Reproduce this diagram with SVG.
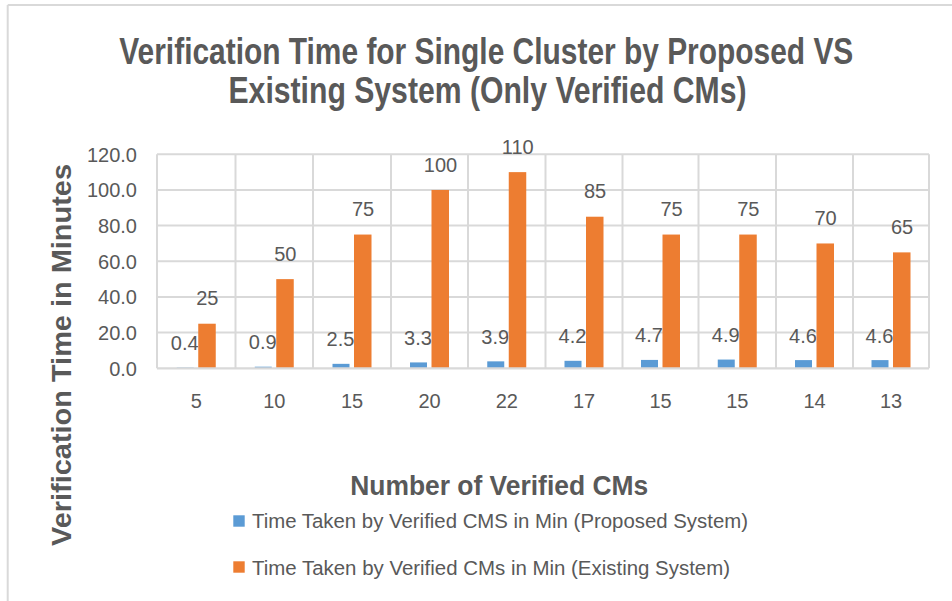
<svg xmlns="http://www.w3.org/2000/svg" width="952" height="601" viewBox="0 0 952 601">
  <style>
    .frame { stroke: #D9D9D9; stroke-width: 2; fill: none; }
    .grid { stroke: #D9D9D9; stroke-width: 2; fill: none; }
    .axis { stroke: #D9D9D9; stroke-width: 2.2; fill: none; }
    .proposed { fill: #5B9BD5; }
    .existing { fill: #ED7D31; }
    .title { font-family: "Liberation Sans Narrow", "Liberation Sans", Arial, sans-serif; font-weight: bold; fill: #595959; }
    .num { font-family: "Liberation Sans", Arial, sans-serif; font-size: 20px; fill: #595959; }
    .tick-y { text-anchor: end; }
    .mid { text-anchor: middle; }
    .legend { font-family: "Liberation Sans", Arial, sans-serif; font-size: 20px; fill: #595959; }
  </style>

  <rect x="0" y="0" width="952" height="601" fill="#FFFFFF"/>

  <!-- chart frame (top and left edges) -->
  <g id="frame">
    <line class="frame" x1="7.7" y1="5" x2="952" y2="5"/>
    <line class="frame" x1="7.7" y1="5" x2="7.7" y2="601"/>
  </g>

  <!-- chart title -->
  <g id="chart-title" class="title">
    <text x="486.3" y="64.3" font-size="36" text-anchor="middle" textLength="734" lengthAdjust="spacingAndGlyphs">Verification Time for Single Cluster by Proposed VS</text>
    <text x="487.5" y="103.3" font-size="36" text-anchor="middle" textLength="518" lengthAdjust="spacingAndGlyphs">Existing System (Only Verified CMs)</text>
  </g>

  <!-- plot gridlines: value 0..120 step 20, category boundaries -->
  <g id="gridlines">
    <line class="grid" x1="157" y1="332.6" x2="929" y2="332.6"/>
    <line class="grid" x1="157" y1="297.0" x2="929" y2="297.0"/>
    <line class="grid" x1="157" y1="261.3" x2="929" y2="261.3"/>
    <line class="grid" x1="157" y1="225.6" x2="929" y2="225.6"/>
    <line class="grid" x1="157" y1="190.0" x2="929" y2="190.0"/>
    <line class="grid" x1="157" y1="154.3" x2="929" y2="154.3"/>
    <line class="grid" x1="157" y1="154.3" x2="157" y2="368.3"/>
    <line class="grid" x1="235.5" y1="154.3" x2="235.5" y2="368.3"/>
    <line class="grid" x1="313" y1="154.3" x2="313" y2="368.3"/>
    <line class="grid" x1="391" y1="154.3" x2="391" y2="368.3"/>
    <line class="grid" x1="468" y1="154.3" x2="468" y2="368.3"/>
    <line class="grid" x1="545.5" y1="154.3" x2="545.5" y2="368.3"/>
    <line class="grid" x1="622.5" y1="154.3" x2="622.5" y2="368.3"/>
    <line class="grid" x1="698.5" y1="154.3" x2="698.5" y2="368.3"/>
    <line class="grid" x1="776" y1="154.3" x2="776" y2="368.3"/>
    <line class="grid" x1="853" y1="154.3" x2="853" y2="368.3"/>
    <line class="grid" x1="929" y1="154.3" x2="929" y2="368.3"/>
  </g>

  <!-- value axis tick labels -->
  <g id="value-axis" class="num tick-y">
    <text x="137" y="375.6">0.0</text>
    <text x="137" y="339.9">20.0</text>
    <text x="137" y="304.3">40.0</text>
    <text x="137" y="268.6">60.0</text>
    <text x="137" y="232.9">80.0</text>
    <text x="137" y="197.3">100.0</text>
    <text x="137" y="161.6">120.0</text>
  </g>

  <!-- proposed system series -->
  <g id="series-proposed" class="proposed">
    <rect x="176.75" y="367.59" width="17" height="0.71"/>
    <rect x="254.75" y="366.70" width="17" height="1.60"/>
    <rect x="332.5" y="363.84" width="17" height="4.46"/>
    <rect x="410" y="362.42" width="17" height="5.88"/>
    <rect x="487.25" y="361.35" width="17" height="6.95"/>
    <rect x="564.5" y="360.81" width="17" height="7.49"/>
    <rect x="641" y="359.92" width="17" height="8.38"/>
    <rect x="717.75" y="359.56" width="17" height="8.74"/>
    <rect x="795" y="360.10" width="17" height="8.20"/>
    <rect x="871.5" y="360.10" width="17" height="8.20"/>
  </g>

  <!-- proposed system data labels -->
  <g id="labels-proposed" class="num mid">
    <text x="184.75" y="350.1">0.4</text>
    <text x="262.75" y="349.2">0.9</text>
    <text x="340.5" y="346.3">2.5</text>
    <text x="418" y="344.9">3.3</text>
    <text x="495.25" y="343.9">3.9</text>
    <text x="572.5" y="343.3">4.2</text>
    <text x="649" y="342.4">4.7</text>
    <text x="725.75" y="342.1">4.9</text>
    <text x="803" y="342.6">4.6</text>
    <text x="879.5" y="342.6">4.6</text>
  </g>

  <!-- existing system series -->
  <g id="series-existing" class="existing">
    <rect x="198.25" y="323.72" width="17.5" height="44.58"/>
    <rect x="276.25" y="279.13" width="17.5" height="89.17"/>
    <rect x="354" y="234.55" width="17.5" height="133.75"/>
    <rect x="431.5" y="189.97" width="17.5" height="178.33"/>
    <rect x="508.75" y="172.13" width="17.5" height="196.17"/>
    <rect x="586" y="216.72" width="17.5" height="151.58"/>
    <rect x="662.5" y="234.55" width="17.5" height="133.75"/>
    <rect x="739.25" y="234.55" width="17.5" height="133.75"/>
    <rect x="816.5" y="243.47" width="17.5" height="124.83"/>
    <rect x="893" y="252.38" width="17.5" height="115.92"/>
  </g>

  <!-- existing system data labels -->
  <g id="labels-existing" class="num mid">
    <text x="207.25" y="305.2">25</text>
    <text x="285.25" y="260.6">50</text>
    <text x="363" y="216.0">75</text>
    <text x="440.5" y="171.5">100</text>
    <text x="517.75" y="153.6">110</text>
    <text x="595" y="198.2">85</text>
    <text x="671.5" y="216.0">75</text>
    <text x="748.25" y="216.0">75</text>
    <text x="825.5" y="225.0">70</text>
    <text x="902" y="233.9">65</text>
  </g>

  <!-- category axis -->
  <g id="category-axis">
    <line class="axis" x1="157" y1="368.3" x2="929" y2="368.3"/>
    <g class="num mid">
      <text x="196.25" y="408.3">5</text>
      <text x="274.25" y="408.3">10</text>
      <text x="352" y="408.3">15</text>
      <text x="429.5" y="408.3">20</text>
      <text x="506.75" y="408.3">22</text>
      <text x="584" y="408.3">17</text>
      <text x="660.5" y="408.3">15</text>
      <text x="737.25" y="408.3">15</text>
      <text x="814.5" y="408.3">14</text>
      <text x="891" y="408.3">13</text>
    </g>
  </g>

  <!-- axis titles -->
  <g id="axis-titles" class="title">
    <text transform="translate(70.7,355) rotate(-90)" font-size="27" text-anchor="middle" textLength="382" lengthAdjust="spacingAndGlyphs">Verification Time in Minutes</text>
    <text x="499.2" y="495" font-size="28" text-anchor="middle" textLength="298" lengthAdjust="spacingAndGlyphs">Number of Verified CMs</text>
  </g>

  <!-- legend -->
  <g id="legend">
    <rect class="proposed" x="233.3" y="515.3" width="11.4" height="11.4"/>
    <text class="legend" x="252" y="528.3" textLength="496" lengthAdjust="spacingAndGlyphs">Time Taken by Verified CMS in Min (Proposed System)</text>
    <rect class="existing" x="233.3" y="561.3" width="11.4" height="11.4"/>
    <text class="legend" x="252" y="574.8" textLength="478" lengthAdjust="spacingAndGlyphs">Time Taken by Verified CMs in Min (Existing System)</text>
  </g>
</svg>
